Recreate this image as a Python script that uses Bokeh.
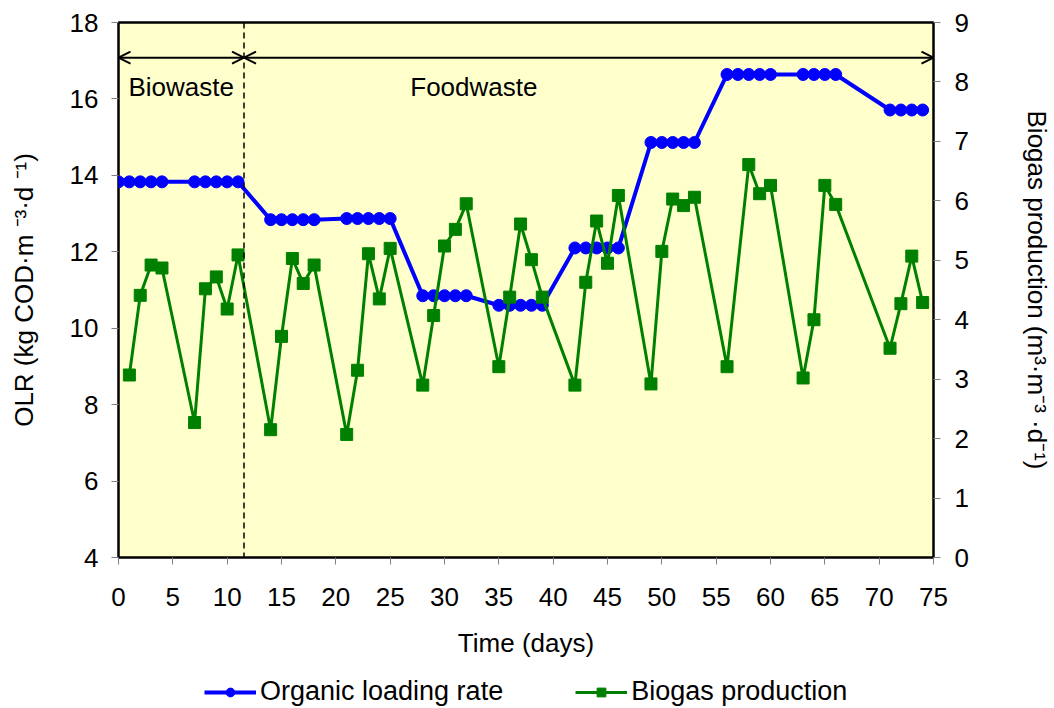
from bokeh.plotting import figure
from bokeh.layouts import column
from bokeh.models import (Range1d, LinearAxis, FixedTicker, Legend, LegendItem,
                          Arrow, OpenHead, Span, Label)
from bokeh.embed import file_html
from bokeh.resources import INLINE

# ---- data ----
olr_days = [0, 1, 2, 3, 4, 7, 8, 9, 10, 11, 14, 15, 16, 17, 18, 21, 22, 23, 24, 25,
            28, 29, 30, 31, 32, 35, 36, 37, 38, 39, 42, 43, 44, 45, 46,
            49, 50, 51, 52, 53, 56, 57, 58, 59, 60, 63, 64, 65, 66, 71, 72, 73, 74]
olr_vals = [13.83] * 10 + [12.84] * 5 + [12.87] * 5 + [10.85] * 5 + [10.6] * 5 + \
           [12.1] * 5 + [14.86] * 5 + [16.64] * 9 + [15.71] * 4

bio_days = [1, 2, 3, 4, 7, 8, 9, 10, 11, 14, 15, 16, 17, 18, 21, 22, 23, 24, 25,
            28, 29, 30, 31, 32, 35, 36, 37, 38, 39, 42, 43, 44, 45, 46,
            49, 50, 51, 52, 53, 56, 58, 59, 60, 63, 64, 65, 66, 71, 72, 73, 74]
bio_vals = [3.07, 4.41, 4.92, 4.87, 2.27, 4.52, 4.72, 4.18, 5.09,
            2.15, 3.72, 5.03, 4.61, 4.92,
            2.07, 3.15, 5.11, 4.35, 5.20,
            2.90, 4.07, 5.24, 5.52, 5.95,
            3.21, 4.38, 5.61, 5.01, 4.38,
            2.90, 4.63, 5.66, 4.95, 6.09,
            2.92, 5.15, 6.03, 5.92, 6.06,
            3.21, 6.61, 6.12, 6.26,
            3.02, 4.00, 6.26, 5.94,
            3.52, 4.27, 5.07, 4.29]

x_ticks = list(range(0, 80, 5))
left_ticks = list(range(4, 20, 2))
right_ticks = list(range(0, 10))
switch_day = 11.55
phase_labels = ["Biowaste", "Foodwaste"]
series_names = ["Organic loading rate", "Biogas production"]

FONT = "Liberation Sans"
FS = "26px"
BLUE = "#0000FF"
GREEN = "#008000"

p = figure(width=1054, height=665, output_backend="svg", toolbar_location=None,
           x_range=Range1d(0, 75), y_range=Range1d(4, 18),
           min_border_left=118, min_border_right=118, min_border_top=22,
           min_border_bottom=108)
p.background_fill_color = "#FFFFCC"
p.border_fill_color = "white"
p.outline_line_color = "black"
p.outline_line_width = 2.5
p.xgrid.visible = False
p.ygrid.visible = False

p.extra_y_ranges = {"bio": Range1d(0, 9)}
raxis = LinearAxis(y_range_name="bio")
p.add_layout(raxis, "right")

for ax in [p.xaxis[0], p.yaxis[0], raxis]:
    ax.axis_line_color = None
    ax.major_tick_line_color = "#808080"
    ax.major_tick_in = 0
    ax.major_tick_out = 7
    ax.minor_tick_line_color = None
    ax.major_label_text_font = FONT
    ax.major_label_text_font_size = FS
    ax.major_label_text_color = "black"
    ax.axis_label_text_font = FONT
    ax.axis_label_text_font_size = FS
    ax.axis_label_text_font_style = "normal"
    ax.axis_label_text_color = "black"

p.xaxis[0].ticker = FixedTicker(ticks=x_ticks)
p.yaxis[0].ticker = FixedTicker(ticks=left_ticks)
raxis.ticker = FixedTicker(ticks=right_ticks)

p.xaxis[0].axis_label = "Time (days)"
p.xaxis[0].major_label_standoff = 23
p.xaxis[0].axis_label_standoff = 19
p.yaxis[0].axis_label = "OLR (kg COD·m ⁻³·d ⁻¹)"
p.yaxis[0].major_label_standoff = 13
p.yaxis[0].axis_label_standoff = 28
raxis.axis_label = "Biogas production (m³·m⁻³ ·d⁻¹)"
raxis.major_label_standoff = 14
raxis.axis_label_standoff = 50

# annotations
p.add_layout(Span(location=switch_day, dimension="height", line_color="black",
                  line_width=1.5, line_dash="6 4"))
p.add_layout(Arrow(start=OpenHead(size=12, line_width=2), end=OpenHead(size=12, line_width=2),
                   x_start=0, x_end=switch_day, y_start=17.08, y_end=17.08,
                   line_width=2, line_color="black"))
p.add_layout(Arrow(start=OpenHead(size=12, line_width=2), end=OpenHead(size=12, line_width=2),
                   x_start=switch_day, x_end=75, y_start=17.08, y_end=17.08,
                   line_width=2, line_color="black"))
p.add_layout(Label(x=switch_day / 2, y=16.3, text=phase_labels[0], text_align="center",
                   text_baseline="middle", text_font=FONT, text_font_size=FS,
                   text_color="black"))
p.add_layout(Label(x=32.7, y=16.3, text=phase_labels[1], text_align="center",
                   text_baseline="middle", text_font=FONT, text_font_size=FS,
                   text_color="black"))

# series
p.line(olr_days, olr_vals, line_color=BLUE, line_width=4)
p.scatter(olr_days, olr_vals, marker="circle", size=12, fill_color=BLUE, line_color=BLUE)
p.line(bio_days, bio_vals, line_color=GREEN, line_width=3, y_range_name="bio")
p.scatter(bio_days, bio_vals, marker="square", size=12, fill_color=GREEN,
          line_color=GREEN, y_range_name="bio")

# legend strip (separate figure so that it is not clipped); its stand-in
# renderers hold a point placed outside the visible range so nothing shows
q = figure(width=1054, height=43, output_backend="svg", toolbar_location=None,
           x_axis_type=None, y_axis_type=None, x_range=Range1d(0, 1), y_range=Range1d(0, 1),
           min_border=0, outline_line_color=None)
q.xgrid.visible = False
q.ygrid.visible = False
off = [-10]
ql1 = q.line(off, off, line_color=BLUE, line_width=4)
qs1 = q.scatter(off, off, marker="circle", size=14, fill_color=BLUE, line_color=BLUE)
ql2 = q.line(off, off, line_color=GREEN, line_width=3)
qs2 = q.scatter(off, off, marker="square", size=14, fill_color=GREEN, line_color=GREEN)
legend = Legend(items=[LegendItem(label=series_names[0], renderers=[ql1, qs1]),
                       LegendItem(label=series_names[1], renderers=[ql2, qs2])],
                location=(86, 1), orientation="horizontal",
                glyph_width=52, glyph_height=22, label_standoff=4, spacing=72,
                padding=0, margin=0, label_text_font=FONT, label_text_font_size="27px",
                label_text_color="black",
                border_line_color=None, background_fill_alpha=0)
q.add_layout(legend, "center")

layout = column(p, q, spacing=0)
open("out.html", "w").write(file_html(layout, INLINE))
